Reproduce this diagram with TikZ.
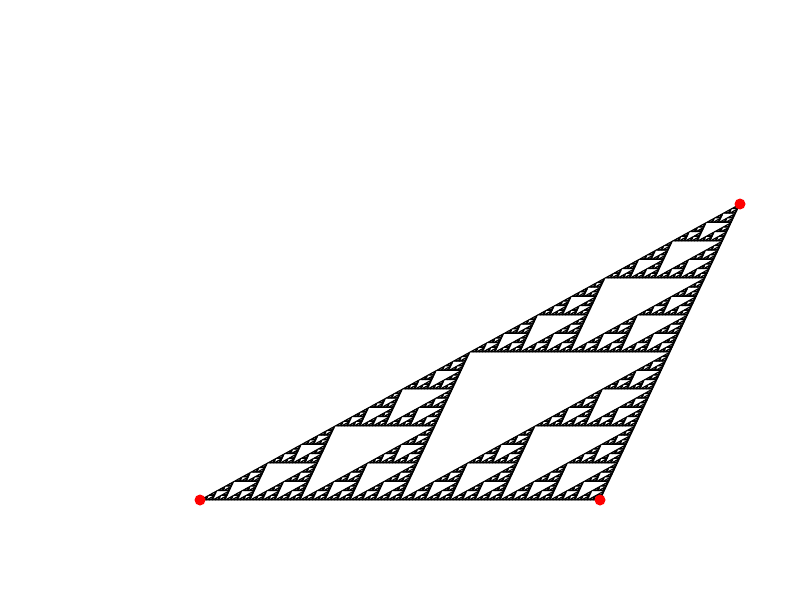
\documentclass[tikz,border=0pt]{standalone}
\usepackage{tikz}
\definecolor{dotred}{HTML}{FF0000}
\tikzset{corner/.style={circle,fill=dotred,inner sep=0pt,minimum size=0.11cm}}
% one level of the gasket in the unit triangle (0,0)--(1,0)--(0,1)
\newcommand\gasketpart[1]{%
  \ifnum#1=0
    \filldraw[black,line width=0.008cm,line join=round] (0,0) -- (1,0) -- (0,1) -- cycle;
  \else
    \begin{scope}[scale=0.5]\gasketpart{\numexpr#1-1\relax}\end{scope}%
    \begin{scope}[shift={(0.5,0)},scale=0.5]\gasketpart{\numexpr#1-1\relax}\end{scope}%
    \begin{scope}[shift={(0,0.5)},scale=0.5]\gasketpart{\numexpr#1-1\relax}\end{scope}%
  \fi}

\begin{document}
\begin{tikzpicture}
    \useasboundingbox (0,0) rectangle (8,6);
    \begin{scope}[cm={4,0,5.4,2.96,(2,1)}]
      \gasketpart{7}
    \end{scope}
    \node[corner] (left) at (2,1) {};
    \node[corner] (right) at (6,1) {};
    \node[corner] (top) at (7.4,3.96) {};
  \end{tikzpicture}
\end{document}
